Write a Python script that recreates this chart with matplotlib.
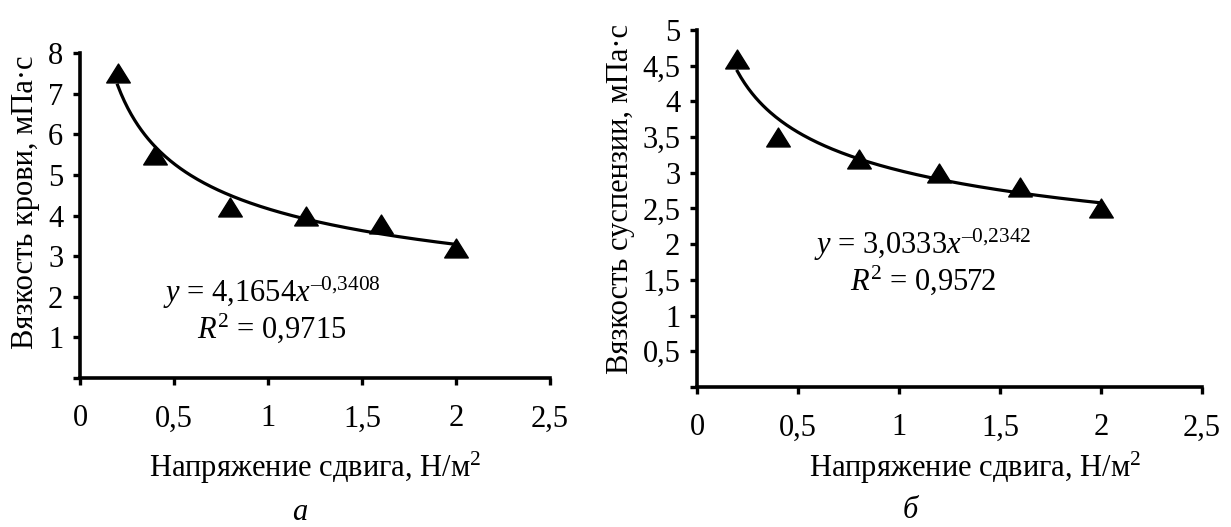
import numpy as np
import matplotlib
matplotlib.use('Agg')
import matplotlib.pyplot as plt
from matplotlib.path import Path

plt.rcParams['font.family'] = ['Liberation Serif', 'DejaVu Serif']
plt.rcParams['mathtext.fontset'] = 'custom'
plt.rcParams['mathtext.rm'] = 'Liberation Serif'
plt.rcParams['mathtext.it'] = 'Liberation Serif:italic'

# data
stress = [0.2, 0.4, 0.8, 1.2, 1.6, 2.0]
blood_visc = [7.5, 5.5, 4.2, 4.0, 3.8, 3.2]
susp_visc = [4.6, 3.5, 3.2, 3.0, 2.8, 2.5]

# power trend lines y = a * x^b, as printed on the chart
blood_a, blood_b = 4.1654, -0.3408
susp_a, susp_b = 3.0333, -0.2342

x_ticks = [0, 0.5, 1, 1.5, 2, 2.5]
x_ticklabels = ['0', '0,5', '1', '1,5', '2', '2,5']
blood_yticks = [0, 1, 2, 3, 4, 5, 6, 7, 8]
blood_yticklabels = ['', '1', '2', '3', '4', '5', '6', '7', '8']
susp_yticks = [0, 0.5, 1, 1.5, 2, 2.5, 3, 3.5, 4, 4.5, 5]
susp_yticklabels = ['', '0,5', '1', '1,5', '2', '2,5', '3', '3,5', '4', '4,5', '5']

FS = 22
tri = Path([(0, 0.8), (-1, -0.8), (1, -0.8), (0, 0.8)],
           [Path.MOVETO, Path.LINETO, Path.LINETO, Path.CLOSEPOLY])

fig = plt.figure(figsize=(12.31, 5.27), dpi=100)
ax1 = fig.add_axes([0.065, 0.2827, 0.3818, 0.6167])
ax2 = fig.add_axes([0.5662, 0.2657, 0.4102, 0.6774])


def style_axes(ax, yticks, yticklabels, ymax):
    ax.set_xlim(0, 2.5)
    ax.set_ylim(0, ymax)
    ax.set_xticks(x_ticks)
    ax.set_xticklabels(x_ticklabels)
    ax.set_yticks(yticks)
    ax.set_yticklabels(yticklabels)
    for s in ['top', 'right']:
        ax.spines[s].set_visible(False)
    for s in ['left', 'bottom']:
        ax.spines[s].set_linewidth(2.6)
    ax.tick_params(axis='both', direction='out', length=5, width=2.4,
                   labelsize=FS)
    ax.tick_params(axis='x', pad=14)
    ax.tick_params(axis='y', pad=7)


def draw(ax, y, a, b):
    xs = np.linspace(min(stress), max(stress), 200)
    ax.plot(xs, a * xs ** b, color='black', linewidth=2.3, zorder=2)
    ax.plot(stress, y, linestyle='none', marker=tri, markersize=17,
            color='black', zorder=3, clip_on=False)


xlabel = 'Напряжение сдвига, Н/м$^{\\mathregular{2}}$'

draw(ax1, blood_visc, blood_a, blood_b)
style_axes(ax1, blood_yticks, blood_yticklabels, 8)
ax1.set_ylabel('Вязкость крови, мПа·с', fontsize=FS)
ax1.yaxis.set_label_coords(-0.085, 0.54)
ax1.set_xlabel(xlabel, fontsize=FS)
ax1.xaxis.set_label_coords(0.5, -0.22)
ax1.text(1.02, 2.09, '$y$ = 4,1654$x^{\\mathregular{–0{,}3408}}$',
         fontsize=FS, ha='center', va='center')
ax1.text(1.02, 1.23, '$R^{\\mathregular{2}}$ = 0,9715',
         fontsize=FS, ha='center', va='center')

draw(ax2, susp_visc, susp_a, susp_b)
style_axes(ax2, susp_yticks, susp_yticklabels, 5)
ax2.set_ylabel('Вязкость суспензии, мПа·с', fontsize=FS)
ax2.yaxis.set_label_coords(-0.122, 0.527)
ax2.set_xlabel(xlabel, fontsize=FS)
ax2.xaxis.set_label_coords(0.55, -0.176)
ax2.text(1.12, 1.99, '$y$ = 3,0333$x^{\\mathregular{–0{,}2342}}$',
         fontsize=FS, ha='center', va='center')
ax2.text(1.12, 1.50, '$R^{\\mathregular{2}}$ = 0,9572',
         fontsize=FS, ha='center', va='center')

fig.text(300 / 1231, 1 - 513 / 527, 'а', fontsize=FS, style='italic',
         ha='center', va='center')
fig.text(910 / 1231, 1 - 510 / 527, 'б', fontsize=FS, style='italic',
         ha='center', va='center')

fig.savefig('out.png', dpi=100)
